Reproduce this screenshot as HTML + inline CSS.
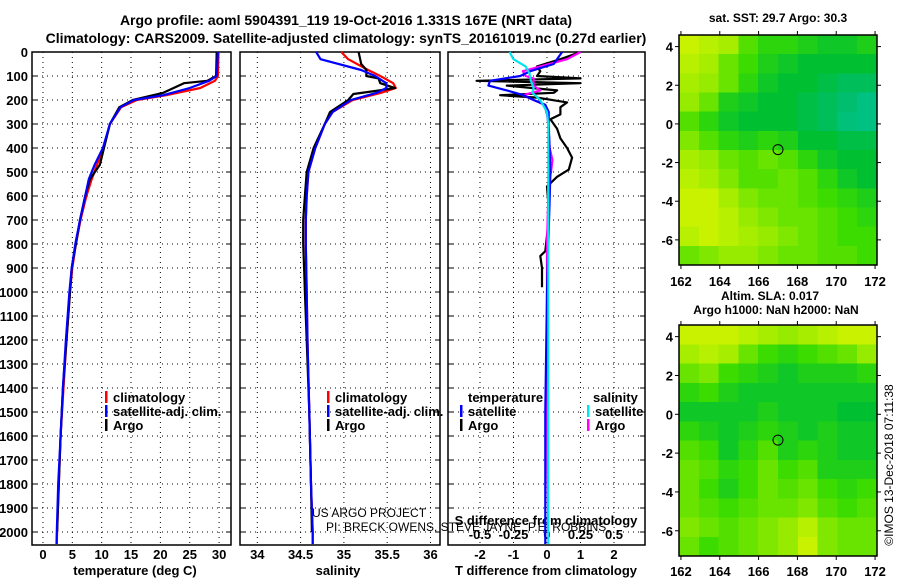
<!DOCTYPE html>
<html><head><meta charset="utf-8"><style>
html,body{margin:0;padding:0;background:#fff;}
svg text{font-family:"Liberation Sans",sans-serif;font-weight:bold;fill:#000;}
</style></head><body>
<svg id="s" width="900" height="580" viewBox="0 0 900 580" xmlns="http://www.w3.org/2000/svg">
<text x="346" y="25" font-size="14" text-anchor="middle">Argo profile: aoml 5904391_119 19-Oct-2016 1.331S 167E (NRT data)</text>
<text x="346" y="43" font-size="14" text-anchor="middle">Climatology: CARS2009. Satellite-adjusted climatology: synTS_20161019.nc (0.27d earlier)</text>
<text x="135" y="575" font-size="13" text-anchor="middle">temperature (deg C)</text>
<text x="338" y="575" font-size="13" text-anchor="middle">salinity</text>
<text x="546" y="575" font-size="13" text-anchor="middle">T difference from climatology</text>
<text x="546" y="525" font-size="13" text-anchor="middle">S difference from climatology</text>
<text x="312" y="517" font-size="12" font-weight="normal" style="font-weight:normal">US ARGO PROJECT</text>
<text x="326" y="531" font-size="12" style="font-weight:normal">PI: BRECK OWENS, STEVE JAYNE, P.E. ROBBINS</text>
<text x="778" y="22" font-size="12" text-anchor="middle">sat. SST: 29.7 Argo: 30.3</text>
<text x="770" y="300" font-size="12" text-anchor="middle">Altim. SLA: 0.017</text>
<text x="776" y="314" font-size="12" text-anchor="middle">Argo h1000: NaN h2000: NaN</text>
<text transform="translate(893,465) rotate(-90)" font-size="12" text-anchor="middle" style="font-weight:normal">©IMOS 13-Dec-2018 07:11:38</text>
</svg>
<script>
// ---- profile data ----
const tDepth = [0,100,120,130,170,200,230,300,400,470,530,600,700,800,900,1000,1200,1400,1600,1800,2000];
const argoTemp = [29.6,29.5,28,24,20.5,15.3,13,11.4,10.4,9.7,8,7.2,6.3,5.6,4.9,4.6,4.0,3.4,3.0,2.7,2.4];
const climTDepth = [0,100,120,150,180,200,230,300,400,470,530,600,700,800,900,1000,1200,1400,1600,1800,2000,2050];
const climTemp = [29.9,29.8,29.3,26.8,21,16,13.3,11.4,10.3,9.2,8.3,7.4,6.4,5.6,5.0,4.6,4.0,3.5,3.0,2.7,2.4,2.35];
const satTemp = [29.8,29.6,28.3,25,20.5,15.5,13.2,11.4,10.2,8.8,7.8,7.2,6.3,5.5,4.9,4.5,3.9,3.4,3.0,2.6,2.35,2.3];
const sDepth = [0,50,75,100,110,130,150,165,175,200,250,300,400,500,600,700,800,900,1000,1200,1500,1800,2000];
const argoSal = [35.17,35.2,35.26,35.26,35.4,35.42,35.59,35.31,35.11,35.05,34.84,34.78,34.65,34.57,34.55,34.53,34.53,34.54,34.55,34.57,34.6,34.62,34.63];
const climSDepth = [0,30,75,100,130,150,170,200,250,300,400,500,600,700,800,1000,1200,1500,1800,2000,2050];
const climSal = [34.97,35.05,35.28,35.42,35.57,35.6,35.43,35.1,34.87,34.78,34.67,34.59,34.57,34.56,34.56,34.57,34.58,34.6,34.62,34.64,34.64];
const satSal = [34.68,34.73,35.2,35.36,35.49,35.49,35.38,35.08,34.87,34.78,34.67,34.59,34.57,34.56,34.56,34.57,34.58,34.6,34.62,34.64,34.64];
const dDepthA = [0,30,60,80,100,110,120,130,140,160,170,180,190,210,230,260,280,320,360,400,440,490,520,560,650,700,830,850,900,980];
const argoDT = [1.0,0.4,-0.3,-0.2,-0.3,1.0,-2.1,1.0,-1.2,0.3,0.2,-1.4,-0.3,0.6,0.4,0.4,0.1,0.3,0.4,0.6,0.75,0.65,0.3,0.0,0.05,0.05,-0.05,-0.2,-0.15,-0.15];
const magDepth = [0,30,60,80,100,110,120,140,160,180,200,220,260,300,400,450,500,550,600,800,1000,1500,2000];
const argoDS = [0.25,0.15,-0.05,-0.18,-0.16,-0.1,-0.1,-0.1,-0.05,-0.18,-0.1,-0.02,0,0.01,0.02,0.04,0.03,0.01,0.01,0,0,0,0.01];
const satDDepth = [0,50,80,100,120,140,160,180,200,220,250,300,500,1000,1500,2050];
const satDT = [0.45,0.2,-0.5,-0.8,-1.7,-1.75,-1.2,-0.7,-0.4,-0.05,0.05,0.05,0.1,0,-0.05,-0.05];
const cyDepth = [0,30,60,90,120,150,170,200,250,300,1000,2050];
const satDS = [-0.28,-0.25,-0.16,-0.13,-0.12,-0.1,-0.11,-0.05,0,0.01,0.01,0.01];
const depthTicks = [0,100,200,300,400,500,600,700,800,900,1000,1100,1200,1300,1400,1500,1600,1700,1800,1900,2000];
const tempTicks = [0,5,10,15,20,25,30];
const salTicks = [34,34.5,35,35.5,36];
const dTTicks = [-2,-1,0,1,2];
const dSTicks = [-0.5,-0.25,0,0.25,0.5];
// ---- map data (0 = teal, 1 = yellow) ----
const latTicks = [4,2,0,-2,-4,-6];
const lonTicks = [162,164,166,168,170,172];
const sstGrid = [
[0.85,0.8,0.75,0.55,0.45,0.45,0.4,0.35,0.35,0.4],
[0.8,0.75,0.6,0.5,0.4,0.35,0.3,0.3,0.3,0.3],
[0.75,0.7,0.6,0.45,0.35,0.3,0.3,0.25,0.2,0.2],
[0.7,0.6,0.4,0.35,0.3,0.3,0.25,0.2,0.15,0.1],
[0.55,0.45,0.35,0.3,0.3,0.3,0.25,0.2,0.12,0.1],
[0.65,0.55,0.45,0.4,0.45,0.4,0.3,0.3,0.25,0.25],
[0.75,0.7,0.6,0.55,0.6,0.55,0.45,0.35,0.3,0.3],
[0.8,0.75,0.65,0.55,0.55,0.6,0.55,0.45,0.35,0.3],
[0.85,0.85,0.75,0.65,0.6,0.6,0.55,0.5,0.45,0.4],
[0.85,0.85,0.8,0.7,0.65,0.6,0.6,0.55,0.5,0.45],
[0.8,0.85,0.8,0.75,0.7,0.65,0.6,0.55,0.5,0.5],
[0.6,0.65,0.7,0.7,0.65,0.6,0.6,0.55,0.55,0.5]];
const slaGrid = [
[0.85,0.85,0.85,0.8,0.75,0.7,0.75,0.8,0.85,0.85],
[0.75,0.8,0.75,0.6,0.5,0.45,0.5,0.55,0.6,0.7],
[0.6,0.65,0.5,0.45,0.4,0.35,0.4,0.4,0.4,0.45],
[0.45,0.5,0.4,0.35,0.35,0.35,0.35,0.35,0.35,0.35],
[0.35,0.35,0.35,0.35,0.4,0.35,0.35,0.35,0.3,0.3],
[0.45,0.4,0.35,0.4,0.45,0.4,0.35,0.4,0.35,0.35],
[0.55,0.5,0.35,0.45,0.55,0.4,0.45,0.4,0.35,0.35],
[0.6,0.55,0.45,0.5,0.6,0.5,0.55,0.4,0.4,0.4],
[0.6,0.5,0.4,0.5,0.6,0.55,0.6,0.5,0.45,0.5],
[0.6,0.55,0.5,0.55,0.6,0.6,0.65,0.55,0.5,0.55],
[0.65,0.6,0.55,0.6,0.65,0.7,0.8,0.65,0.6,0.6],
[0.6,0.5,0.55,0.6,0.65,0.7,0.85,0.65,0.6,0.6]];
const floatLon = 167.0;
const floatLat = -1.33;

const NS = "http://www.w3.org/2000/svg";
const svg = document.getElementById('s');
function mk(tag, attrs, parent){ const e=document.createElementNS(NS,tag); for(const k in attrs) e.setAttribute(k,attrs[k]); (parent||svg).appendChild(e); return e; }

const Y0=52, Y1=545;
const yD = d => Y0 + d*0.24;
const panels = [
 {x0:32,x1:231,min:-1.87,max:32.03,name:'temperature-panel'},
 {x0:240,x1:440,min:33.8,max:36.11,name:'salinity-panel'},
 {x0:448,x1:645,min:-2.955,max:2.925,name:'difference-panel'}];
const sx = (p,v) => p.x0 + (v-p.min)/(p.max-p.min)*(p.x1-p.x0);
const sxS = v => sx(panels[2], v*4);

panels.forEach((p,i)=>{
  const g = mk('g',{});
  
  
  const ticks = i===0?tempTicks:(i===1?salTicks:dTTicks);
  depthTicks.forEach(d=>{
    const y=yD(d);
    const l=mk('line',{x1:p.x0,x2:p.x1,y1:y,y2:y,stroke:'#000','stroke-width':1,'stroke-dasharray':'1,4'},g);
    
    
    mk('line',{x1:p.x0,x2:p.x0+5,y1:y,y2:y,stroke:'#000'},g);
    mk('line',{x1:p.x1-5,x2:p.x1,y1:y,y2:y,stroke:'#000'},g);
  });
  ticks.forEach(v=>{
    const x=sx(p,v);
    const l=mk('line',{x1:x,x2:x,y1:Y0,y2:Y1,stroke:'#000','stroke-width':1,'stroke-dasharray':'1,4'},g);
    
    
    const t=mk('text',{x:x,y:559,'font-size':13,'text-anchor':'middle'},g);
    t.textContent=String(v);
    
    
  });
  const r=mk('rect',{x:p.x0,y:Y0,width:p.x1-p.x0,height:Y1-Y0,fill:'none',stroke:'#000','stroke-width':1.5},g);
  
  
});
depthTicks.forEach(d=>{
  const t=mk('text',{x:28,y:yD(d)+5,'font-size':13,'text-anchor':'end'});
  t.textContent=String(d);
  
  
});
dSTicks.forEach(v=>{
  const t=mk('text',{x:sxS(v),y:539,'font-size':13,'text-anchor':'middle'});
  t.textContent=String(v);
  
  
});

function line(depths, vals, xf, color, name){
  const pts = depths.map((d,i)=>xf(vals[i]).toFixed(1)+','+yD(d).toFixed(1)).join(' ');
  const e = mk('polyline',{points:pts,fill:'none',stroke:color,'stroke-width':2.2,'stroke-linejoin':'round'});
  
  
}
line(climTDepth, climTemp, v=>sx(panels[0],v), '#ff0000','temperature-climatology-line');
line(tDepth, argoTemp, v=>sx(panels[0],v), '#000000','temperature-argo-line');
line(climTDepth, satTemp, v=>sx(panels[0],v), '#0000ff','temperature-satellite-line');
line(climSDepth, climSal, v=>sx(panels[1],v), '#ff0000','salinity-climatology-line');
line(sDepth, argoSal, v=>sx(panels[1],v), '#000000','salinity-argo-line');
line(climSDepth, satSal, v=>sx(panels[1],v), '#0000ff','salinity-satellite-line');
line(dDepthA, argoDT, v=>sx(panels[2],v), '#000000','t-diff-argo-line');
line(magDepth, argoDS, sxS, '#ff00ff','s-diff-argo-line');
line(satDDepth, satDT, v=>sx(panels[2],v), '#0000ff','t-diff-satellite-line');
line(cyDepth, satDS, sxS, '#00e5ee','s-diff-satellite-line');

function legend(x, y, color, label, name){
  const g=mk('g',{});
  
  
  mk('rect',{x:x,y:y-10,width:2.5,height:12,fill:color},g);
  const t=mk('text',{x:x+8,y:y+1,'font-size':13},g);
  t.textContent=label;
}
legend(105,401,'#ff0000','climatology','legend-temp-climatology');
legend(105,415,'#0000ff','satellite-adj. clim.','legend-temp-satellite');
legend(105,429,'#000000','Argo','legend-temp-argo');
legend(327,401,'#ff0000','climatology','legend-sal-climatology');
legend(327,415,'#0000ff','satellite-adj. clim.','legend-sal-satellite');
legend(327,429,'#000000','Argo','legend-sal-argo');
{ const t=mk('text',{x:468,y:402,'font-size':13}); t.textContent='temperature';
    }
{ const t=mk('text',{x:593,y:402,'font-size':13}); t.textContent='salinity';
    }
legend(460,415,'#0000ff','satellite','legend-tdiff-satellite');
legend(460,429,'#000000','Argo','legend-tdiff-argo');
legend(587,415,'#00e5ee','satellite','legend-sdiff-satellite');
legend(587,429,'#ff00ff','Argo','legend-sdiff-argo');

// ---- maps ----
const stops=[[0,[0,200,170]],[0.15,[0,190,110]],[0.3,[0,192,50]],[0.5,[60,220,0]],[0.7,[150,235,0]],[0.85,[200,242,0]],[1,[235,250,0]]];
function cmap(v){
  for(let i=1;i<stops.length;i++){ if(v<=stops[i][0]){ const a=stops[i-1],b=stops[i],t=(v-a[0])/(b[0]-a[0]);
    return 'rgb('+a[1].map((c,k)=>Math.round(c+(b[1][k]-c)*t)).join(',')+')'; } }
  return 'rgb(235,250,0)';
}
function drawMap(top, bottom, grid, name, lonLabelY){
  const L=679,R=877, lon0=161.9, lon1=172.1, latTop=4.6, latBot=-7.3;
  const xl = lon => L + (lon-lon0)/(lon1-lon0)*(R-L);
  const yl = lat => top + (latTop-lat)/(latTop-latBot)*(bottom-top);
  const g=mk('g',{'shape-rendering':'crispEdges'});
  
  
  const rows=grid.length, cols=grid[0].length, cw=(R-L)/cols, ch=(bottom-top)/rows;
  grid.forEach((row,r)=>row.forEach((v,c)=>{
    const e=mk('rect',{x:(L+c*cw).toFixed(2),y:(top+r*ch).toFixed(2),width:(cw+0.6).toFixed(2),height:(ch+0.6).toFixed(2),fill:cmap(v)},g);
    
    
  }));
  const fr=mk('rect',{x:L,y:top,width:R-L,height:bottom-top,fill:'none',stroke:'#000','stroke-width':1.5});
  
  
  latTicks.forEach(lat=>{
    const y=yl(lat);
    mk('line',{x1:L-4,x2:L,y1:y,y2:y,stroke:'#000'});
    mk('line',{x1:R,x2:R+4,y1:y,y2:y,stroke:'#000'});
    const t=mk('text',{x:673,y:y+5,'font-size':13,'text-anchor':'end'});
    t.textContent=String(lat);
    
    
  });
  lonTicks.forEach(lon=>{
    const x=xl(lon);
    mk('line',{x1:x,x2:x,y1:top-4,y2:top,stroke:'#000'});
    mk('line',{x1:x,x2:x,y1:bottom,y2:bottom+4,stroke:'#000'});
    const t=mk('text',{x:x,y:lonLabelY,'font-size':13,'text-anchor':'middle'});
    t.textContent=String(lon);
    
    
  });
  const c=mk('circle',{cx:xl(floatLon),cy:yl(floatLat),r:5,fill:'none',stroke:'#000','stroke-width':1});
  
  
}
drawMap(35,265,sstGrid,'sst-map',286);
drawMap(325,556,slaGrid,'sla-map',576);
</script>
</body></html>
